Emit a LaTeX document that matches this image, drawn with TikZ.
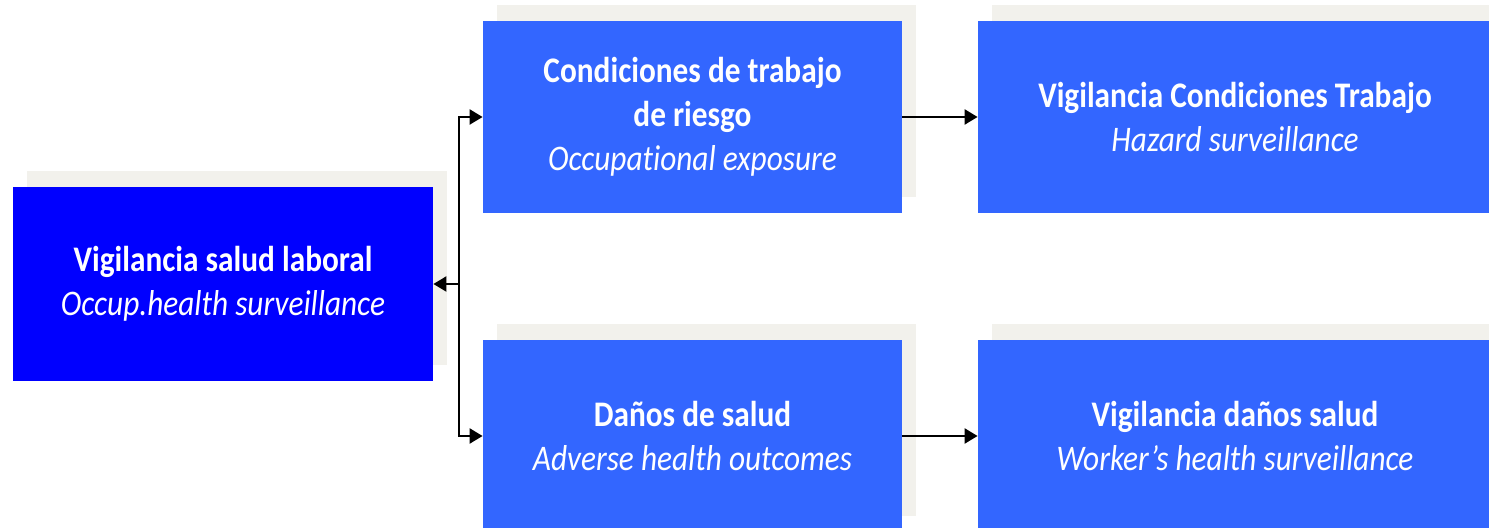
\documentclass[tikz,border=0pt]{standalone}
\usepackage{fontspec}
\setmainfont[FakeStretch=0.87, Ligatures=NoCommon]{Carlito}
\usetikzlibrary{arrows.meta,shadows}
\definecolor{deepblue}{HTML}{0000FF}
\definecolor{midblue}{HTML}{3366FF}
\definecolor{paper}{HTML}{F2F1EC}
\begin{document}
\begin{tikzpicture}
[
    x=0.5pt, y=-0.5pt,
    box/.style={fill=midblue, text=white, inner sep=0pt, align=center,
        minimum height=96pt,
        font=\fontsize{18}{22}\selectfont,
        drop shadow={shadow xshift=7pt, shadow yshift=8pt, fill=paper, opacity=1}},
    link/.style={line width=1.1pt, -{Triangle[length=6.5pt, width=7.5pt]}},
]
\useasboundingbox (0,0) rectangle (1489,528);
\node [box, fill=deepblue, minimum width=210pt, minimum height=97pt] (vsl) at (223,284)
{\textbf{Vigilancia salud laboral}\\\textit{Occup.health surveillance}};
\node [box, minimum width=209.5pt] (cond) at (692.5,117)
{\textbf{Condiciones de trabajo}\\\textbf{de riesgo}\\\textit{Occupational exposure}};
\node [box, minimum width=257pt] (vct) at (1235,117)
{\textbf{Vigilancia Condiciones Trabajo}\\\textit{Hazard surveillance}};
\node [box, minimum width=209.5pt] (danos) at (692.5,436)
{\textbf{Daños de salud}\\\textit{Adverse health outcomes}};
\node [box, minimum width=257pt] (vds) at (1235,436)
{\textbf{Vigilancia daños salud}\\\textit{Worker’s health surveillance}};
\coordinate (fork) at (459,284);
\draw [link] (fork) -- (vsl.east);
\draw [link] (fork) |- (cond.west);
\draw [link] (fork) |- (danos.west);
\draw [link] (cond.east) -- (vct.west);
\draw [link] (danos.east) -- (vds.west);
\end{tikzpicture}
\end{document}
